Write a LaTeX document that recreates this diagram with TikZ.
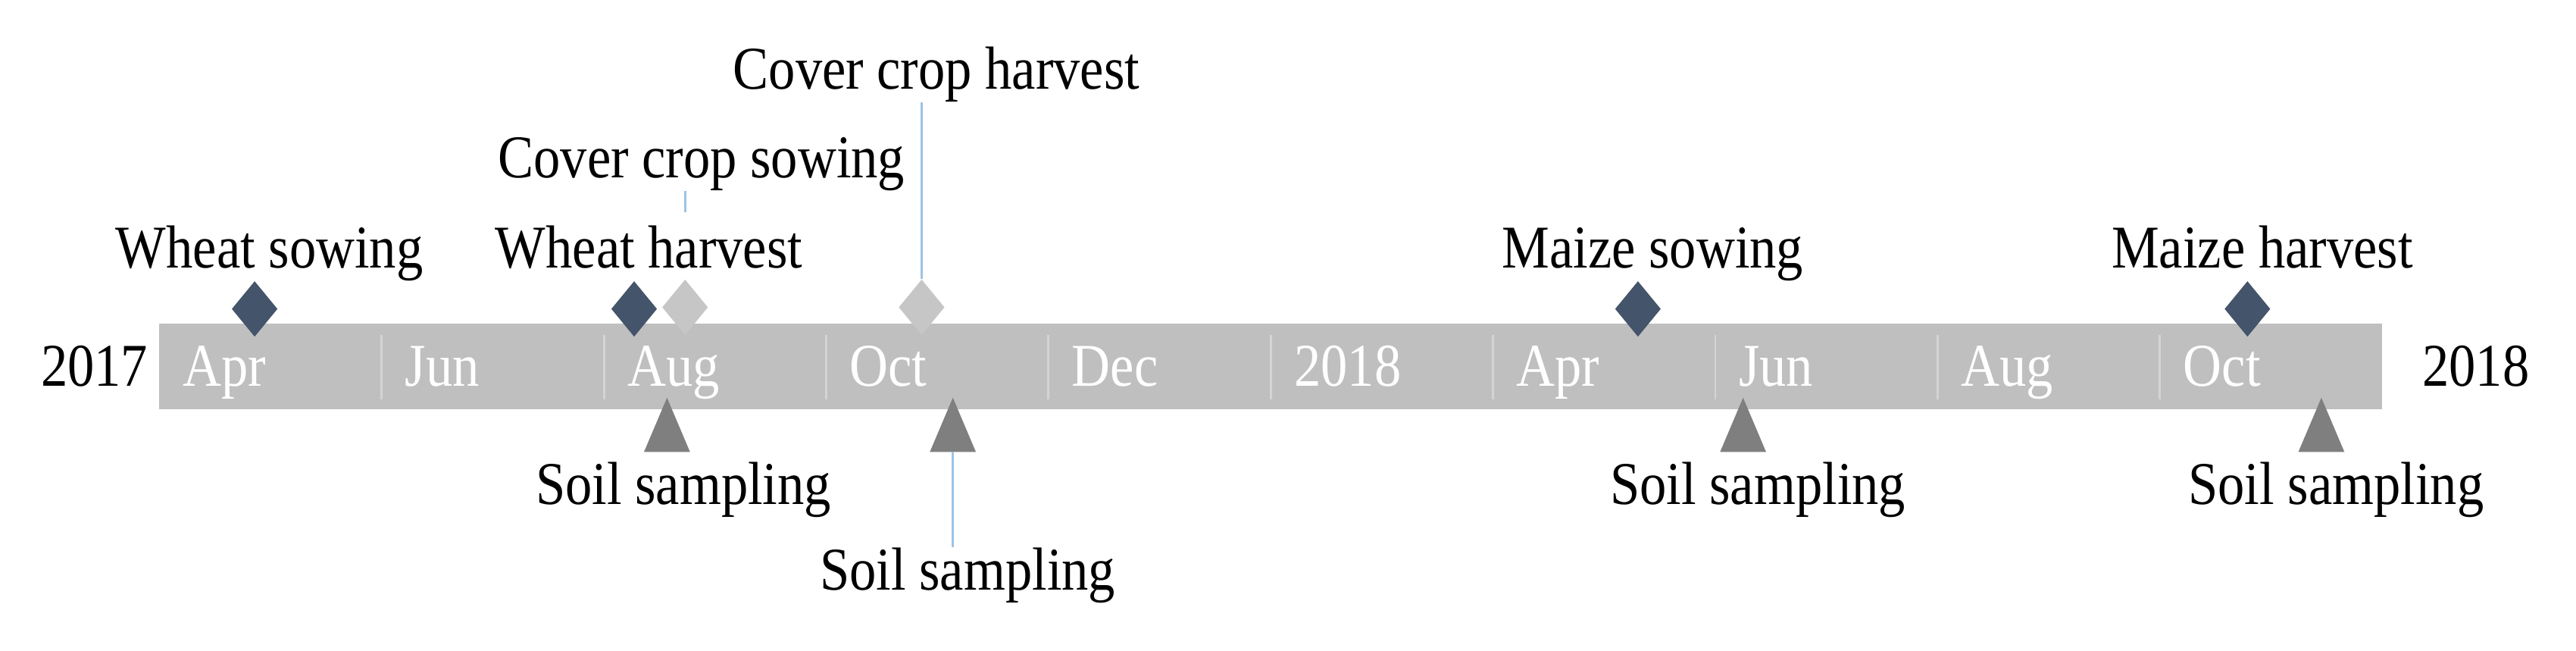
\documentclass[tikz,border=0pt]{standalone}
\usepackage{fontspec}
\setmainfont{Liberation Serif}
\usetikzlibrary{shapes.geometric}
\definecolor{barc}{RGB}{191,191,191}
\definecolor{sepc}{RGB}{212,212,212}
\definecolor{navy}{RGB}{68,84,106}
\definecolor{lightd}{RGB}{198,198,198}
\definecolor{trig}{RGB}{127,127,127}
\definecolor{lblue}{RGB}{157,195,230}
\newcommand{\lab}[1]{\scalebox{0.88}[1]{#1}}
\begin{document}
\begin{tikzpicture}[x=0.021684cm,y=-0.021684cm,
  txt/.style={inner sep=0pt, anchor=base, font=\fontsize{22.8}{26}\selectfont},
  month/.style={txt, anchor=base west, text=white},
  dmark/.style={diamond, fill=navy, inner sep=0pt, minimum width=0.607cm, minimum height=0.737cm},
  lmark/.style={dmark, fill=lightd},
  tri/.style={fill=trig},
  leader/.style={draw=lblue, line width=0.8pt},
  sepline/.style={draw=sepc, line width=0.8pt}]
\useasboundingbox (0,0) rectangle (1568,396);
% bar
\fill[barc] (97,197) rectangle (1450,249);
\foreach \i in {1,...,9}{
  \draw[sepline] ({97+135.3*\i},204) -- ({97+135.3*\i},243);
}
\foreach \m [count=\i from 0] in {Apr,Jun,Aug,Oct,Dec,2018,Apr,Jun,Aug,Oct}{
  \node[month] (m\i) at ({97+135.3*\i+14},235) {\lab{\m}};
}
\node[txt] (y17) at (57.5,235) {\lab{2017}};
\node[txt] (y18) at (1507,235) {\lab{2018}};
% diamonds
\node[lmark] (cs) at (417,187) {};
\node[lmark] (ch) at (561,187) {};
\node[dmark] (ws) at (155,188) {};
\node[dmark] (wh) at (386,188) {};
\node[dmark] (ms) at (997,188) {};
\node[dmark] (mh) at (1368,188) {};
% top labels
\node[txt] (lws) at (164,163) {\lab{Wheat sowing}};
\node[txt] (lwh) at (395,163) {\lab{Wheat harvest}};
\node[txt] (lms) at (1006,163) {\lab{Maize sowing}};
\node[txt] (lmh) at (1377,163) {\lab{Maize harvest}};
\node[txt] (lcs) at (427,108) {\lab{Cover crop sowing}};
\node[txt] (lch) at (570,54) {\lab{Cover crop harvest}};
% triangles
\foreach \n/\x in {t1/406,t2/580,t3/1061,t4/1413}{
  \fill[tri] ({\x-14},275) -- (\x,242) -- ({\x+14},275) -- cycle;
  \coordinate (\n) at (\x,275);
}
% bottom labels
\node[txt] (ss1) at (416,307) {\lab{Soil sampling}};
\node[txt] (ss2) at (589,359) {\lab{Soil sampling}};
\node[txt] (ss3) at (1070,307) {\lab{Soil sampling}};
\node[txt] (ss4) at (1422,307) {\lab{Soil sampling}};
% leaders
\draw[leader] (ch.north) -- (ch.north |- lch.south);
\coordinate (csend) at (417,129);
\draw[leader] (lcs.south -| cs.center) -- (csend);
\draw[leader] (t2) -- (t2 |- ss2.north);
\end{tikzpicture}
\end{document}
